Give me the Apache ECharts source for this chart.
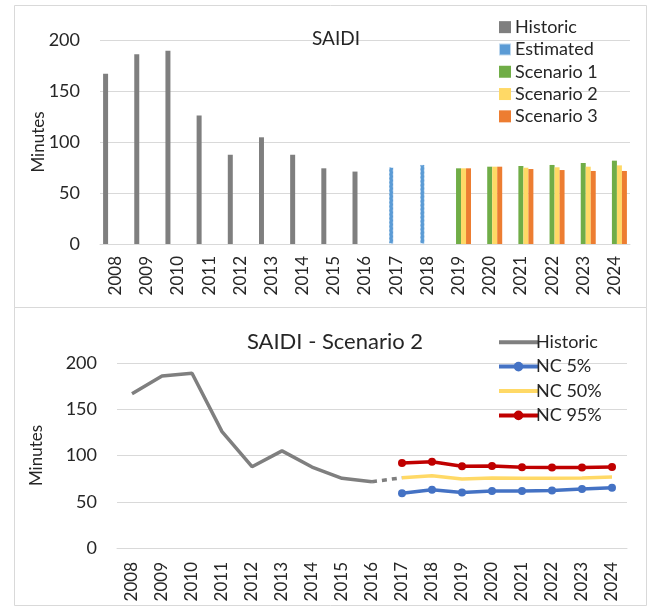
<!DOCTYPE html>
<html>
<head>
<meta charset="utf-8">
<title>SAIDI</title>
<script src="https://cdn.jsdelivr.net/npm/echarts@6/dist/echarts.min.js"></script>
<style>
  html, body { margin: 0; padding: 0; background: #fff; }
  #chart { width: 649px; height: 607px; }
</style>
</head>
<body>
<div id="chart"></div>
<script>
const years = ['2008', '2009', '2010', '2011', '2012', '2013', '2014', '2015', '2016',
  '2017', '2018', '2019', '2020', '2021', '2022', '2023', '2024']
const yTicks = [0, 50, 100, 150, 200]

// top chart - bars
const historic = [167, 186, 189.5, 126, 87.5, 104.6, 87.5, 74.2, 71, null, null, null, null, null, null, null, null]
const estimated = [null, null, null, null, null, null, null, null, null, 75.5, 78, null, null, null, null, null, null]
const scenario1 = [null, null, null, null, null, null, null, null, null, null, null, 74.2, 75.8, 76.5, 77.5, 79.4, 81.7]
const scenario2 = [null, null, null, null, null, null, null, null, null, null, null, 74.2, 75.8, 74.8, 75.2, 75.8, 77.1]
const scenario3 = [null, null, null, null, null, null, null, null, null, null, null, 74.2, 75.8, 73.5, 72.5, 71.6, 71.6]

// bottom chart - scenario 2 lines
const historicLine = [166.7, 186, 189, 125.8, 87.9, 105, 87.5, 75.3, 71.6, null, null, null, null, null, null, null, null]
const bridge = [null, null, null, null, null, null, null, null, 71.6, 76, null, null, null, null, null, null, null]
const nc5 = [null, null, null, null, null, null, null, null, null, 59.3, 62.9, 60, 61.5, 61.5, 62.2, 63.7, 65.1]
const nc50 = [null, null, null, null, null, null, null, null, null, 76, 78, 74.5, 75.6, 75.3, 75.3, 75.6, 76.7]
const nc95 = [null, null, null, null, null, null, null, null, null, 91.9, 93.3, 88.3, 88.6, 87.2, 86.9, 86.9, 87.5]

const FONT = 'Lato'
const TEXT = '#262626'
const GRID_LINE = '#D9D9D9'

const chart = echarts.init(document.getElementById('chart'))

const xAxisBase = (gridIndex, margin) => ({
  type: 'category',
  gridIndex,
  data: years,
  axisLine: { lineStyle: { color: GRID_LINE, width: 1 } },
  axisTick: { show: false },
  axisLabel: { rotate: 90, margin, color: TEXT, fontFamily: FONT, fontSize: 17 }
})

const yAxisBase = (gridIndex, nameGap) => ({
  type: 'value',
  gridIndex,
  min: yTicks[0],
  max: yTicks[yTicks.length - 1],
  interval: yTicks[1] - yTicks[0],
  name: 'Minutes',
  nameLocation: 'middle',
  nameGap,
  nameRotate: 90,
  nameMoveOverlap: false,
  nameTextStyle: { color: TEXT, fontFamily: FONT, fontSize: 17 },
  axisLine: { show: false },
  axisTick: { show: false },
  axisLabel: { margin: 20, color: TEXT, fontFamily: FONT, fontSize: 18 },
  splitLine: { lineStyle: { color: GRID_LINE, width: 1 } }
})

const barSeries = (name, data, color, extra) => Object.assign({
  name,
  type: 'bar',
  xAxisIndex: 0,
  yAxisIndex: 0,
  data,
  barWidth: 5,
  barGap: '0%',
  itemStyle: { color }
}, extra || {})

// line without markers; transparent item colour hides the legend dot
const plainLine = (name, data, color, extra) => Object.assign({
  name,
  type: 'line',
  xAxisIndex: 1,
  yAxisIndex: 1,
  data,
  symbol: 'circle',
  showSymbol: false,
  lineStyle: { color, width: 3.5 },
  itemStyle: { color: 'rgba(0,0,0,0)' }
}, extra || {})

const dotLine = (name, data, color) => ({
  name,
  type: 'line',
  xAxisIndex: 1,
  yAxisIndex: 1,
  data,
  symbol: 'circle',
  symbolSize: 8,
  lineStyle: { color, width: 3.5 },
  itemStyle: { color }
})

const option = {
  backgroundColor: '#fff',
  animation: false,
  graphic: [
    { type: 'rect', shape: { x: 14.5, y: 5.5, width: 632, height: 302 }, style: { fill: 'none', stroke: GRID_LINE, lineWidth: 1 }, silent: true },
    { type: 'rect', shape: { x: 14.5, y: 307.5, width: 632, height: 298 }, style: { fill: 'none', stroke: GRID_LINE, lineWidth: 1 }, silent: true }
  ],
  title: [
    { text: 'SAIDI', left: 331, top: 24, textAlign: 'center', textStyle: { color: TEXT, fontFamily: FONT, fontSize: 19, fontWeight: 'normal' } },
    { text: 'SAIDI - Scenario 2', left: 330, top: 326, textAlign: 'center', textStyle: { color: TEXT, fontFamily: FONT, fontSize: 22, fontWeight: 'normal' } }
  ],
  legend: [
    {
      orient: 'vertical',
      left: 493,
      top: 11,
      icon: 'rect',
      itemWidth: 12,
      itemHeight: 12,
      itemGap: 0,
      textStyle: { color: TEXT, fontFamily: FONT, fontSize: 18, lineHeight: 22.3, padding: [0, 0, 0, -1] },
      data: ['Historic', 'Estimated', 'Scenario 1', 'Scenario 2', 'Scenario 3']
    },
    {
      orient: 'vertical',
      left: 492,
      top: 325,
      itemWidth: 39,
      itemHeight: 12,
      itemGap: 0,
      lineStyle: { width: 4 },
      textStyle: { color: TEXT, fontFamily: FONT, fontSize: 18, lineHeight: 24.4, padding: [0, 0, 0, -7] },
      data: ['Historic ', 'NC 5%', 'NC 50%', 'NC 95%']
    }
  ],
  grid: [
    { left: 100, right: 19, top: 40, bottom: 363 },
    { left: 117, right: 22, top: 363, bottom: 59 }
  ],
  xAxis: [xAxisBase(0, 12), xAxisBase(1, 14)],
  yAxis: [yAxisBase(0, 53), yAxisBase(1, 72)],
  series: [
    barSeries('Historic', historic, '#7F7F7F'),
    barSeries('Estimated', estimated, '#5B9BD5', {
      itemStyle: { color: '#5B9BD5', borderColor: 'rgba(255,255,255,0.6)', borderWidth: 1, borderType: [2, 2] }
    }),
    barSeries('Scenario 1', scenario1, '#70AD47'),
    barSeries('Scenario 2', scenario2, '#FFD966'),
    barSeries('Scenario 3', scenario3, '#ED7D31'),
    // trailing space keeps this legend entry apart from the bar series
    plainLine('Historic ', historicLine, '#7F7F7F'),
    plainLine('bridge', bridge, '#7F7F7F', { lineStyle: { color: '#7F7F7F', width: 3.5, type: [5, 5] } }),
    dotLine('NC 5%', nc5, '#4472C4'),
    plainLine('NC 50%', nc50, '#FFD966'),
    dotLine('NC 95%', nc95, '#C00000')
  ]
}

chart.setOption(option)
</script>
</body>
</html>
